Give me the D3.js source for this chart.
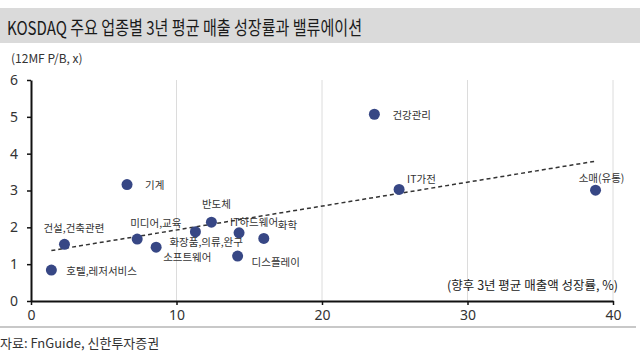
<!DOCTYPE html>
<html><head><meta charset="utf-8">
<script src="https://cdn.jsdelivr.net/npm/d3@7/dist/d3.min.js"></script>
<style>
html,body{margin:0;padding:0;background:#fff;}
svg{display:block;font-family:"Noto Sans CJK KR","Noto Sans",sans-serif;}
</style></head><body>
<svg id="c" width="640" height="360"></svg>
<script>
// ---- data ----
const sectors = ["건강관리","IT가전","소매(유통)","기계","건설,건축관련","호텔,레저서비스","미디어,교육","소프트웨어","화장품,의류,완구","반도체","IT하드웨어","화학","디스플레이"];
const growth  = [23.6, 25.3, 38.8, 6.6, 2.3, 1.4, 7.3, 8.6, 11.3, 12.4, 14.3, 16.0, 14.2];
const pb      = [5.07, 3.03, 3.01, 3.16, 1.54, 0.84, 1.68, 1.46, 1.88, 2.14, 1.85, 1.70, 1.22];
const trendX  = [1.4, 38.85];
const trendY  = [1.37, 3.80];
const xTicks  = [0, 10, 20, 30, 40];
const yTicks  = [0, 1, 2, 3, 4, 5, 6];
const title   = "KOSDAQ 주요 업종별 3년 평균 매출 성장률과 밸류에이션";
const yTitle  = "(12MF P/B, x)";
const xTitle  = "(향후 3년 평균 매출액 성장률, %)";
const source  = "자료: FnGuide, 신한투자증권";

// ---- layout (label offsets relative to point, in px) ----
const labelPos = {
  "건강관리":[18,0,"start"], "IT가전":[8,-11,"start"], "소매(유통)":[6,-13,"middle"],
  "기계":[18,0,"start"], "건설,건축관련":[-21,-17,"start"], "호텔,레저서비스":[15,0,"start"],
  "미디어,교육":[-7,-17,"start"], "소프트웨어":[7,9,"start"], "화장품,의류,완구":[-26,10,"start"],
  "반도체":[5,-19,"middle"], "IT하드웨어":[-9,-11,"start"], "화학":[14,-14,"start"],
  "디스플레이":[14,5,"start"]
};

const svg = d3.select("#c");
const x = d3.scaleLinear().domain([0,40]).range([31,613]);
const y = d3.scaleLinear().domain([0,6]).range([301,80]);

// title band
svg.append("rect").attr("x",0).attr("y",8).attr("width",640).attr("height",35).attr("fill","#dadada");
svg.append("text").attr("x",7).attr("y",26).attr("dominant-baseline","central")
  .attr("font-size",19).attr("fill","#1a1a1a").attr("textLength",355).attr("lengthAdjust","spacingAndGlyphs")
  .text(title);
svg.append("text").attr("x",11).attr("y",57).attr("dominant-baseline","central")
  .attr("font-size",12).attr("fill","#333").text(yTitle);

// gridlines
svg.append("g").selectAll("line").data(xTicks.filter(d=>d>0)).join("line")
  .attr("x1",d=>x(d)).attr("x2",d=>x(d)).attr("y1",y(6)).attr("y2",y(0))
  .attr("stroke","#dcdcdc").attr("stroke-width",1);

// axes
const xAxis = svg.append("g").attr("transform",`translate(0,${y(0)})`)
  .call(d3.axisBottom(x).tickValues(xTicks).tickFormat(d3.format("d")).tickSize(4).tickSizeOuter(0));
const yAxis = svg.append("g").attr("transform",`translate(${x(0)},0)`)
  .call(d3.axisLeft(y).tickValues(yTicks).tickFormat(d3.format("d")).tickSize(4).tickSizeOuter(0));
[xAxis,yAxis].forEach(a=>{
  a.select(".domain").attr("stroke","#111").attr("stroke-width",2);
  a.selectAll(".tick line").attr("stroke","#111").attr("stroke-width",1.5);
  a.selectAll("text").attr("font-size",14).attr("fill","#333")
   .attr("font-family","'Noto Sans','Noto Sans CJK KR',sans-serif");
});
xAxis.selectAll("text").attr("dy","0.85em");
yAxis.selectAll("text").attr("x",-13);

// trend line
svg.append("line").attr("x1",x(trendX[0])).attr("y1",y(trendY[0]))
  .attr("x2",x(trendX[1])).attr("y2",y(trendY[1]))
  .attr("stroke","#333").attr("stroke-width",1.5).attr("stroke-dasharray","4,3");

// points
const pts = sectors.map((s,i)=>({s, g:growth[i], p:pb[i]}));
svg.append("g").selectAll("circle").data(pts).join("circle")
  .attr("cx",d=>x(d.g)).attr("cy",d=>y(d.p)).attr("r",5.5).attr("fill","#374785");

svg.append("g").selectAll("text").data(pts).join("text")
  .attr("x",d=>x(d.g)+labelPos[d.s][0]).attr("y",d=>y(d.p)+labelPos[d.s][1])
  .attr("text-anchor",d=>labelPos[d.s][2]).attr("dominant-baseline","central")
  .attr("font-size",10.5).attr("fill","#333").text(d=>d.s);

// x title
svg.append("text").attr("x",618).attr("y",284).attr("text-anchor","end").attr("dominant-baseline","central")
  .attr("font-size",12.5).attr("fill","#222").text(xTitle);

// bottom rule and source
svg.append("line").attr("x1",0).attr("x2",636).attr("y1",327).attr("y2",327)
  .attr("stroke","#c8c8c8").attr("stroke-width",2);
svg.append("text").attr("x",0).attr("y",342).attr("dominant-baseline","central")
  .attr("font-size",13).attr("fill","#333").text(source);
</script>
</body></html>
